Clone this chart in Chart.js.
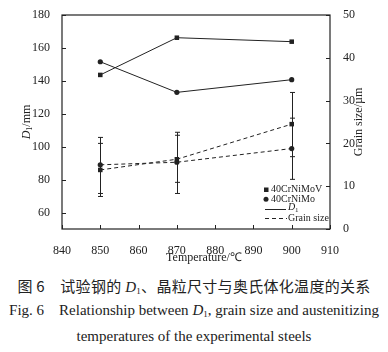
<!DOCTYPE html>
<html>
<head>
<meta charset="utf-8">
<script src="https://cdn.jsdelivr.net/npm/chart.js@4.4.1/dist/chart.umd.min.js"></script>
<style>
  html, body { margin: 0; padding: 0; background: #fff; }
  body { width: 388px; height: 352px; overflow: hidden; position: relative; }
  #wrap { position: absolute; left: 0; top: 0; width: 388px; height: 268px; }
  .cap { position: absolute; left: 0; width: 388px; text-align: center; color: #222; white-space: nowrap; line-height: 18px; }
  #cap1 { top: 275px; font: 15px "Noto Sans CJK SC", sans-serif; letter-spacing: 0.3px; }
  #cap2 { top: 302px; font: 15px "Liberation Serif", serif; }
  #cap3 { top: 328px; font: 15px "Liberation Serif", serif; }
  .it { font-style: italic; font-family: "Liberation Serif", serif; }
  sub { font-size: 9px; vertical-align: -2px; font-family: "Liberation Serif", serif; }
</style>
</head>
<body>
<div id="wrap"><canvas id="c"></canvas></div>
<div class="cap" id="cap1">图 6　试验钢的 <span class="it">D</span><sub>1</sub>、晶粒尺寸与奥氏体化温度的关系</div>
<div class="cap" id="cap2">Fig. 6&nbsp;&nbsp;&nbsp; Relationship between <span class="it">D</span><sub>1</sub>, grain size and austenitizing</div>
<div class="cap" id="cap3">temperatures of the experimental steels</div>
<script>
// 奥氏体化温度（℃）
const TEMPS = [850, 870, 900];
// D1 (mm) — 左轴
const D1_MOV = [143.6, 166.2, 163.8];
const D1_MO = [151.6, 133.0, 140.7];
// 晶粒尺寸 (µm) — 右轴
const GRAIN_MOV = [13.8, 16.3, 24.5];
const GRAIN_MO = [15.0, 15.6, 18.8];
// 误差棒上下端
const GRAIN_MOV_LO = [7.6, 10.9, 16.9];
const GRAIN_MOV_HI = [20.0, 22.6, 31.9];
const GRAIN_MO_LO = [8.3, 8.3, 11.6];
const GRAIN_MO_HI = [21.4, 21.9, 25.9];
// 刻度
const X_TICKS = [840, 850, 860, 870, 880, 890, 900, 910];
const LEFT_TICKS = [60, 80, 100, 120, 140, 160, 180];
const RIGHT_TICKS = [0, 10, 20, 30, 40, 50];

const INK = '#222';
const SERIF = '"Liberation Serif", serif';

const pts = (ys) => TEMPS.map((t, i) => ({ x: t, y: ys[i] }));

// 误差棒、内向刻度、外框、轴标题、图例
const decor = {
  id: 'decor',
  beforeDatasetsDraw(chart) {
    const ctx = chart.ctx;
    const xs = chart.scales.x, yr = chart.scales.y2;
    ctx.save();
    ctx.strokeStyle = INK;
    ctx.lineWidth = 1;
    [[GRAIN_MOV_LO, GRAIN_MOV_HI], [GRAIN_MO_LO, GRAIN_MO_HI]].forEach(([lo, hi]) => {
      TEMPS.forEach((t, i) => {
        const x = Math.round(xs.getPixelForValue(t)) + 0.5;
        const y1 = yr.getPixelForValue(lo[i]), y2 = yr.getPixelForValue(hi[i]);
        ctx.beginPath();
        ctx.moveTo(x, y1); ctx.lineTo(x, y2);
        ctx.moveTo(x - 2.5, y1); ctx.lineTo(x + 2.5, y1);
        ctx.moveTo(x - 2.5, y2); ctx.lineTo(x + 2.5, y2);
        ctx.stroke();
      });
    });
    ctx.restore();
  },
  afterDraw(chart) {
    const ctx = chart.ctx;
    const a = chart.chartArea;
    const xs = chart.scales.x, yl = chart.scales.y, yr = chart.scales.y2;
    ctx.save();
    ctx.strokeStyle = INK;
    ctx.lineWidth = 1.2;
    ctx.strokeRect(a.left, a.top, a.right - a.left, a.bottom - a.top);
    ctx.lineWidth = 1;
    ctx.beginPath();
    X_TICKS.forEach((v) => {
      const x = Math.round(xs.getPixelForValue(v)) + 0.5;
      ctx.moveTo(x, a.bottom); ctx.lineTo(x, a.bottom - 4);
    });
    LEFT_TICKS.forEach((v) => {
      const y = Math.round(yl.getPixelForValue(v)) + 0.5;
      ctx.moveTo(a.left, y); ctx.lineTo(a.left + 4, y);
    });
    RIGHT_TICKS.forEach((v) => {
      const y = Math.round(yr.getPixelForValue(v)) + 0.5;
      ctx.moveTo(a.right, y); ctx.lineTo(a.right - 4, y);
    });
    ctx.stroke();

    // 轴标题
    ctx.fillStyle = INK;
    ctx.textBaseline = 'middle';
    ctx.font = `12px ${SERIF}`;
    ctx.textAlign = 'center';
    ctx.fillText('Temperature/℃', 204, 258);

    const midY = (a.top + a.bottom) / 2;
    ctx.save();
    ctx.translate(27, midY);
    ctx.rotate(-Math.PI / 2);
    ctx.textAlign = 'left';
    ctx.font = `italic 12px ${SERIF}`;
    const wD = ctx.measureText('D').width;
    ctx.font = `8px ${SERIF}`;
    const w1 = ctx.measureText('1').width;
    ctx.font = `12px ${SERIF}`;
    const wMm = ctx.measureText('/mm').width;
    const x0 = -(wD + w1 + wMm) / 2;
    ctx.font = `italic 12px ${SERIF}`;
    ctx.fillText('D', x0, 0);
    ctx.font = `8px ${SERIF}`;
    ctx.fillText('1', x0 + wD, 3);
    ctx.font = `12px ${SERIF}`;
    ctx.fillText('/mm', x0 + wD + w1, 0);
    ctx.restore();

    ctx.save();
    ctx.translate(359, midY);
    ctx.rotate(-Math.PI / 2);
    ctx.textAlign = 'center';
    ctx.font = `12px ${SERIF}`;
    ctx.fillText('Grain size/µm', 0, 0);
    ctx.restore();

    // 图例
    const lx = 266;
    ctx.font = `10px ${SERIF}`;
    ctx.textAlign = 'left';
    ctx.fillRect(lx - 2, 189.5 - 2, 4.5, 4.5);
    ctx.fillText('40CrNiMoV', 271, 189.5);
    ctx.beginPath();
    ctx.arc(lx, 199.3, 2.5, 0, Math.PI * 2);
    ctx.fill();
    ctx.fillText('40CrNiMo', 271, 199.3);
    ctx.beginPath();
    ctx.moveTo(265, 209.5); ctx.lineTo(286, 209.5);
    ctx.stroke();
    ctx.font = `italic 10px ${SERIF}`;
    ctx.fillText('D', 288, 207);
    ctx.font = `7px ${SERIF}`;
    ctx.fillText('1', 295, 210);
    ctx.setLineDash([4, 3]);
    ctx.beginPath();
    ctx.moveTo(265, 218.5); ctx.lineTo(287, 218.5);
    ctx.stroke();
    ctx.setLineDash([]);
    ctx.font = `10px ${SERIF}`;
    ctx.fillText('Grain size', 288, 218.7);
    ctx.restore();
  },
};

const lineDs = (label, data, axis, style, dashed) => ({
  label,
  data: pts(data),
  yAxisID: axis,
  borderColor: INK,
  backgroundColor: INK,
  borderWidth: 1,
  borderDash: dashed ? [4, 3] : [],
  pointStyle: style,
  pointRadius: style === 'rect' ? 3.2 : 2.6,
  pointBorderWidth: 0,
  tension: 0,
});

const tickFont = { family: SERIF, size: 12 };

function draw() {
  new Chart(document.getElementById('c'), {
    type: 'line',
    data: {
      datasets: [
        lineDs('40CrNiMoV D1', D1_MOV, 'y', 'rect', false),
        lineDs('40CrNiMo D1', D1_MO, 'y', 'circle', false),
        lineDs('40CrNiMoV Grain size', GRAIN_MOV, 'y2', 'rect', true),
        lineDs('40CrNiMo Grain size', GRAIN_MO, 'y2', 'circle', true),
      ],
    },
    options: {
      responsive: true,
      maintainAspectRatio: false,
      animation: false,
      events: [],
      layout: { padding: { top: 15, left: 0, right: 0, bottom: 0 } },
      plugins: { legend: { display: false }, tooltip: { enabled: false } },
      scales: {
        x: {
          type: 'linear', min: 840, max: 910,
          afterBuildTicks: (s) => { s.ticks = X_TICKS.map((v) => ({ value: v })); },
          afterFit: (s) => { s.height = 39; },
          grid: { display: false }, border: { display: false },
          ticks: { color: INK, font: tickFont, padding: 7, maxRotation: 0 },
        },
        y: {
          position: 'left', min: 50, max: 180,
          afterBuildTicks: (s) => { s.ticks = LEFT_TICKS.map((v) => ({ value: v })); },
          afterFit: (s) => { s.width = 62; },
          grid: { display: false }, border: { display: false },
          ticks: { color: INK, font: tickFont, padding: 4 },
        },
        y2: {
          position: 'right', min: 0, max: 50,
          afterBuildTicks: (s) => { s.ticks = RIGHT_TICKS.map((v) => ({ value: v })); },
          afterFit: (s) => { s.width = 58; },
          grid: { display: false }, border: { display: false },
          ticks: { color: INK, font: tickFont, padding: 5 },
        },
      },
    },
    plugins: [decor],
  });
}

Promise.all([
  document.fonts.load('12px "Liberation Serif"'),
  document.fonts.load('italic 12px "Liberation Serif"'),
]).then(draw, draw);
</script>
</body>
</html>
